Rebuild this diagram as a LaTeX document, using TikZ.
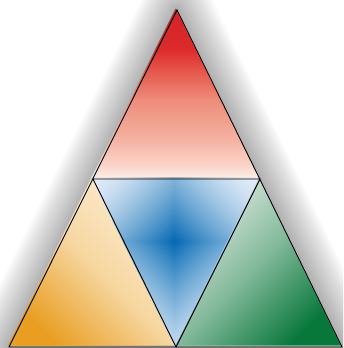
\documentclass[tikz,border=0pt]{standalone}
\usetikzlibrary{calc}
\definecolor{redtop}{HTML}{D42228}
\definecolor{redA}{HTML}{DC2B2B}
\definecolor{redB}{HTML}{E55A4E}
\definecolor{redC}{HTML}{EE8C7A}
\definecolor{redD}{HTML}{F4B3A3}
\definecolor{redE}{HTML}{FAD8CC}
\definecolor{pinkpale}{HTML}{FCEDE8}
\definecolor{orangedark}{HTML}{E99E22}
\definecolor{orangepale}{HTML}{FCEDD3}
\definecolor{greendark}{HTML}{07773A}
\definecolor{greenpale}{HTML}{E0EBE3}
\definecolor{bluedark}{HTML}{0067B3}
\definecolor{bluepale}{HTML}{E4EEF9}
\pgfdeclareverticalshading{redsh}{100bp}{color(0bp)=(pinkpale); color(25bp)=(pinkpale); color(28bp)=(redE); color(36bp)=(redD); color(48bp)=(redC); color(56bp)=(redB); color(63bp)=(redA); color(75bp)=(redtop); color(100bp)=(redtop)}
\begin{document}
\begin{tikzpicture}[x=1pt,y=1pt,
  outline/.style={draw=black,line width=0.9pt,line join=miter},
  glow/.style={draw=black,opacity=0.018,line join=round}]
\useasboundingbox (0,0) rectangle (343,348);
\clip (0,0) rectangle (343,348);
% outline corners
\coordinate (A) at (177,338);
\coordinate (BL) at (9,1);
\coordinate (BR) at (342,1);
\coordinate (ML) at (93,169);
\coordinate (MR) at (260,169);
\coordinate (MB) at (176,1);
% fill corners (slightly offset)
\coordinate (fA) at ($(A)+(-1.5,1.5)$);
\coordinate (fBL) at ($(BL)+(-1.5,1.5)$);
\coordinate (fBR) at ($(BR)+(-1.5,1.5)$);
\coordinate (fML) at ($(ML)+(-1.5,1.5)$);
\coordinate (fMR) at ($(MR)+(-1.5,1.5)$);
\coordinate (fMB) at ($(MB)+(-1.5,1.5)$);
\coordinate (fC) at (174.5,106.5);
% shadow glow
\foreach \w in {4,8,...,72} {
  \draw[glow,line width=\w pt] (A)--(BL)--(BR)--cycle;
}
% red top
\shade[shading=redsh] (fA)--(fML)--(fMR)--cycle;
% orange left
\shade[top color=orangepale,bottom color=orangedark,middle color=orangepale!72!orangedark,shading angle=-45] (fML)--(fBL)--(fMB)--cycle;
% green right
\shade[top color=greenpale,bottom color=greendark,middle color=greenpale!58!greendark,shading angle=45] (fMR)--(fMB)--(fBR)--cycle;
% blue centre: diamond gradient
\begin{scope}
  \clip (fML)--(fMR)--(fMB)--cycle;
  \fill[bluepale] (fML)--(fMR)--(fMB)--cycle;
  \foreach \i in {0,...,50} {
    \pgfmathsetmacro\r{150*(1-\i/50)}
    \pgfmathsetmacro\p{100*(\i/50)^1.5}
    \fill[bluedark!\p!bluepale] ($(fC)+(\r,0)$)--($(fC)+(0,\r)$)--($(fC)+(-\r,0)$)--($(fC)+(0,-\r)$)--cycle;
  }
\end{scope}
% outlines
\draw[outline] (A)--(BL)--(BR)--cycle;
\draw[outline] (ML)--(MR)--(MB)--cycle;
\end{tikzpicture}
\end{document}
